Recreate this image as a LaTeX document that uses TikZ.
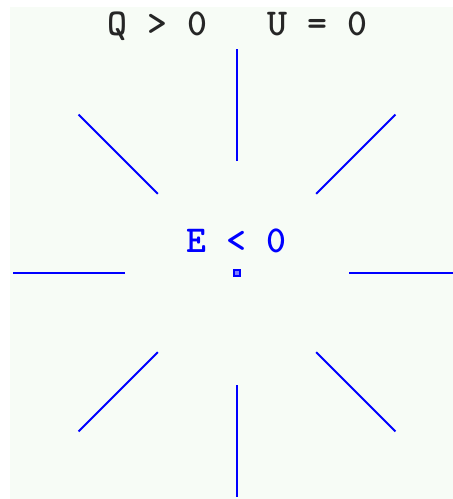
\documentclass[tikz,border=0pt]{standalone}
\usepackage{fontspec}
\definecolor{paper}{RGB}{247,252,246}
\tikzset{
  ray/.style={blue, line width=2pt},
  caption/.style={font=\fontsize{38}{40}\selectfont\ttfamily\bfseries, inner sep=0pt, anchor=base}
}
\begin{document}
\begin{tikzpicture}[x=1pt, y=-1pt]
  \useasboundingbox (0,0) rectangle (453,499);
  \clip (0,0) rectangle (453,499);
  % Background
  \fill[paper] (10,7) rectangle (453,499);
  % Labels
  \node[caption, black!85] (title) at (237.5,35) {Q > 0\ \ \ U = 0};
  \node[caption, blue] (energy) at (236.7,252) {E < 0};
  % Charge
  \node[draw=blue, fill=blue!50, line width=1.8pt, minimum size=6pt, inner sep=0pt] (charge) at (237,273) {};
  % Field rays
  \foreach \a in {0, 45, ..., 315} {
    \draw[ray, shift={(charge.center)}] (\a:112) -- (\a:224);
  }
\end{tikzpicture}
\end{document}
